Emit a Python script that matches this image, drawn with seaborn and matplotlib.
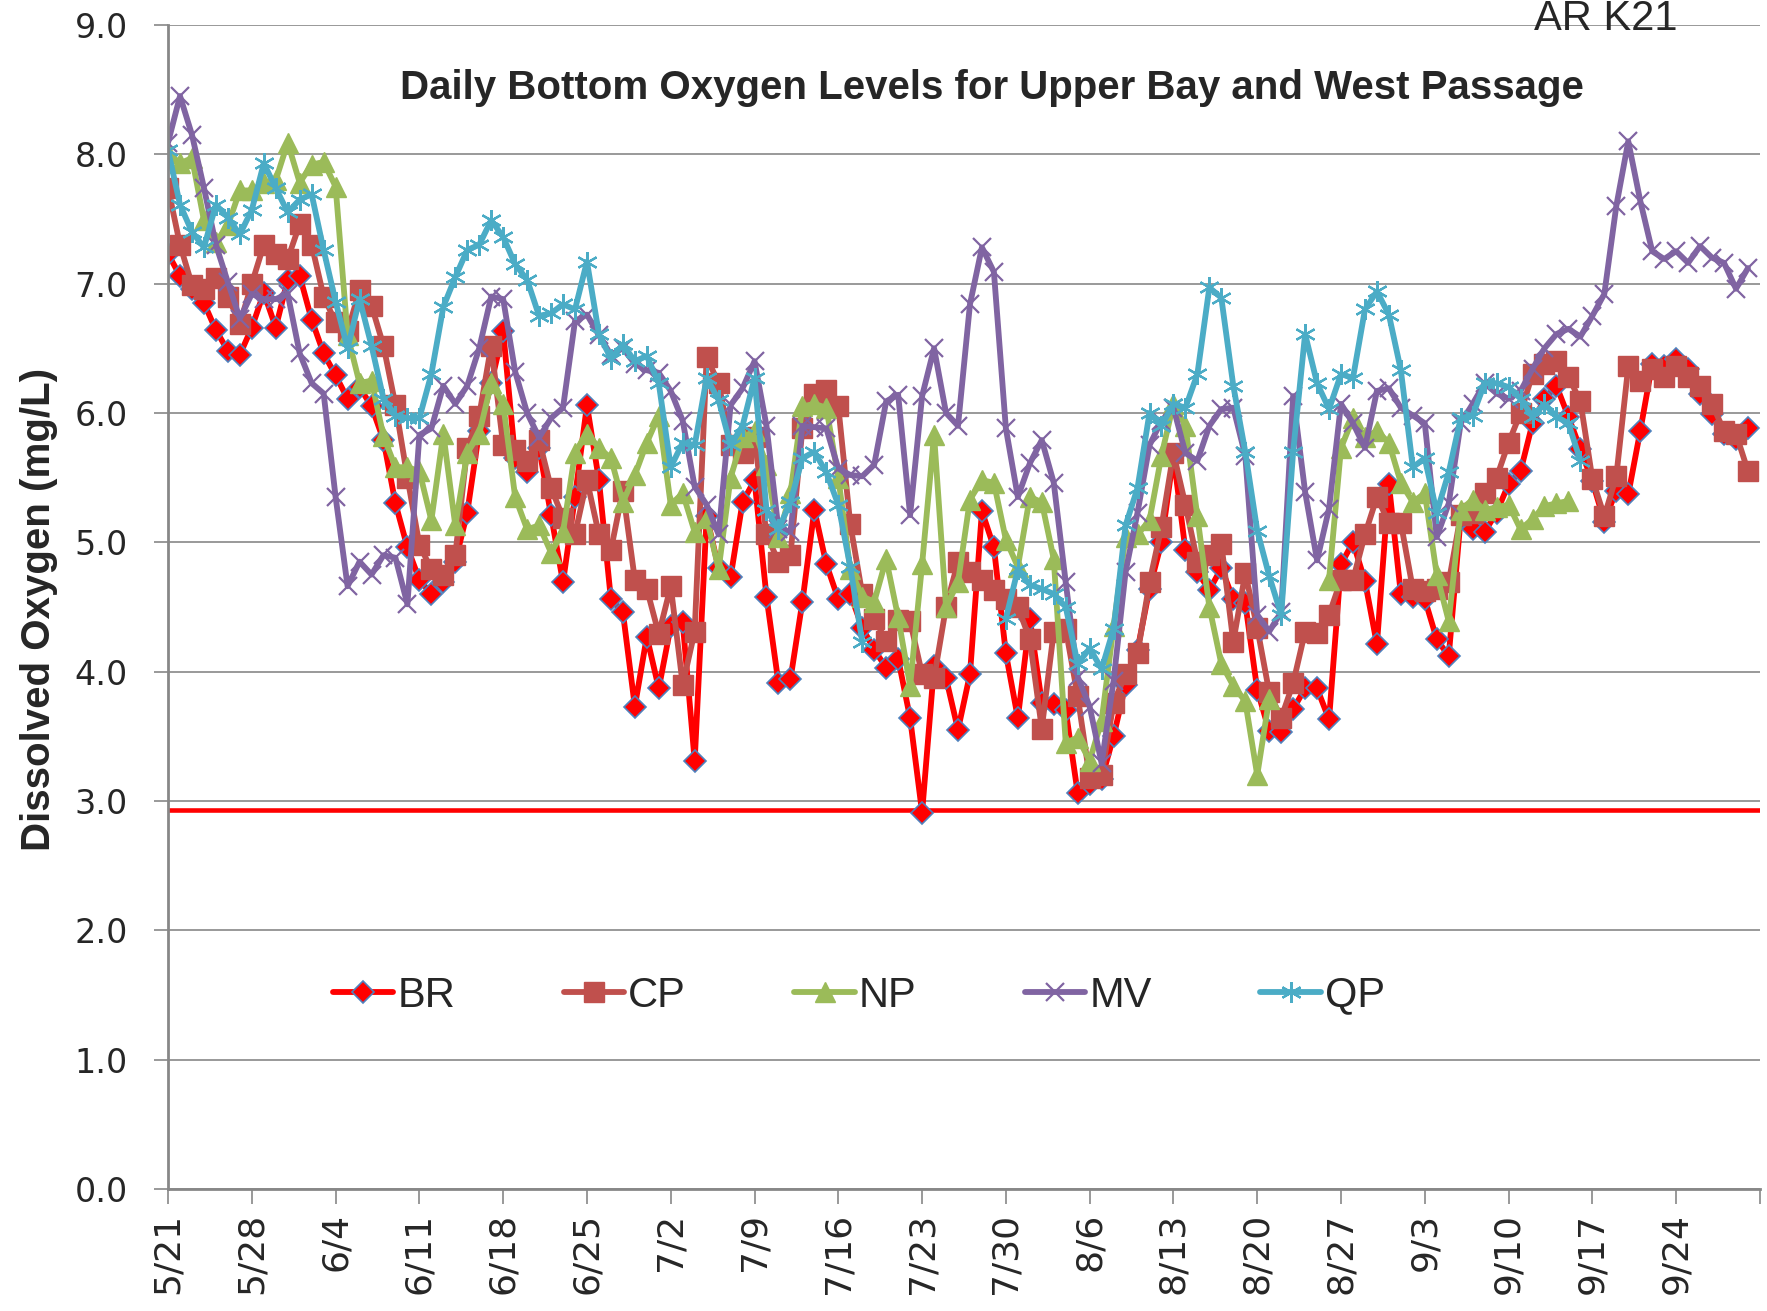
import pandas as pd
import numpy as np
import matplotlib
matplotlib.use('Agg')
import matplotlib.pyplot as plt
import seaborn as sns

# daily values 5/21 .. 9/30 (None = no data that day)
dates = pd.date_range('2013-05-21', periods=133, freq='D')

br = [7.23, 7.06, 6.96, 6.85, 6.64, 6.48, 6.45, 6.66, 6.93, 6.66,
      7.03, 7.06, 6.72, 6.46, 6.29, 6.11, 6.20, 6.05, 5.79, 5.30,
      4.96, 4.71, 4.60, 4.69, 4.85, 5.23, 5.86, 6.23, 6.63, 5.65,
      5.54, 5.73, 5.21, 4.69, 5.35, 6.06, 5.48, 4.56, 4.46, 3.73,
      4.27, 3.87, 4.35, 4.38, 3.31, 5.20, 4.80, 4.73, 5.31, 5.48,
      4.58, 3.91, 3.94, 4.54, 5.25, 4.83, 4.56, 4.60, 4.34, 4.17,
      4.03, 4.10, 3.64, 2.91, 4.04, 3.95, 3.55, 3.98, 5.24, 4.96,
      4.14, 3.64, 4.41, 3.76, 3.75, 3.70, 3.06, 3.13, 3.17, 3.50,
      3.90, 4.17, 4.64, 5.00, 5.67, 4.94, 4.77, 4.63, 4.80, 4.56,
      4.53, 3.86, 3.54, 3.53, 3.71, 3.87, 3.87, 3.63, 4.83, 5.00,
      4.70, 4.21, 5.45, 4.60, 4.58, 4.56, 4.25, 4.12, 5.19, 5.10,
      5.08, 5.23, 5.45, 5.55, 5.92, 6.11, 6.21, 5.97, 5.72, 5.47,
      5.16, 5.40, 5.37, 5.86, 6.38, 6.36, 6.42, 6.34, 6.15, 5.99,
      5.84, 5.80, 5.88]

cp = [7.74, 7.30, 6.99, 6.96, 7.04, 6.90, 6.69, 7.00, 7.30, 7.23,
      7.19, 7.46, 7.30, 6.90, 6.70, 6.63, 6.95, 6.83, 6.52, 6.06,
      5.50, 4.98, 4.79, 4.75, 4.90, 5.73, 5.98, 6.52, 5.75, 5.71,
      5.63, 5.79, 5.42, 5.19, 5.06, 5.48, 5.06, 4.94, 5.40, 4.71,
      4.64, 4.29, 4.66, 3.90, 4.31, 6.43, 6.23, 5.75, 5.69, 5.81,
      5.06, 4.85, 4.90, 5.88, 6.15, 6.18, 6.05, 5.14, 4.60, 4.41,
      4.24, 4.40, 4.39, 3.98, 3.95, 4.50, 4.85, 4.77, 4.71, 4.63,
      4.56, 4.50, 4.25, 3.56, 4.31, 4.33, 3.81, 3.18, 3.20, 3.76,
      3.98, 4.14, 4.69, 5.12, 5.69, 5.29, 4.85, 4.90, 4.99, 4.23,
      4.76, 4.34, 3.84, 3.64, 3.91, 4.31, 4.30, 4.44, 4.71, 4.71,
      5.06, 5.35, 5.15, 5.15, 4.64, 4.62, 4.64, 4.69, 5.21, 5.23,
      5.38, 5.50, 5.77, 6.00, 6.30, 6.38, 6.40, 6.28, 6.09, 5.49,
      5.20, 5.51, 6.36, 6.25, 6.34, 6.28, 6.36, 6.28, 6.21, 6.07,
      5.86, 5.84, 5.55]

np_vals = [8.01, 7.93, 7.97, 7.49, 7.32, 7.45, 7.72, 7.72, 7.78, 7.80,
           8.09, 7.78, 7.92, 7.94, 7.75, 6.60, 6.23, 6.25, 5.82, 5.58,
           5.58, 5.55, 5.17, 5.84, 5.13, 5.69, 5.84, 6.23, 6.07, 5.35,
           5.10, 5.13, 4.92, 5.08, 5.69, 5.84, 5.73, 5.65, 5.31, 5.52,
           5.77, 5.98, 5.29, 5.38, 5.08, 5.19, 4.79, 5.50, 5.81, 5.86,
           5.60, 5.04, 5.38, 6.05, 6.07, 6.04, 5.50, 4.79, 4.58, 4.54,
           4.87, 4.42, 3.89, 4.83, 5.83, 4.50, 4.69, 5.33, 5.48, 5.46,
           5.02, 4.81, 5.35, 5.31, 4.87, 3.45, 3.49, 3.31, 3.62, 4.35,
           5.04, 5.06, 5.17, 5.67, 6.07, 5.90, 5.20, 4.50, 4.06, 3.89,
           3.77, 3.20, 3.79, None, None, None, None, 4.71, 5.73, 5.96,
           5.81, 5.86, 5.77, 5.46, 5.31, 5.38, 4.75, 4.39, 5.25, 5.33,
           5.25, 5.27, 5.29, 5.10, 5.18, 5.28, 5.30, 5.32] + [None] * 15

mv = [8.09, 8.45, 8.15, 7.74, 7.30, 7.01, 6.73, 6.92, 6.88, 6.88,
      6.92, 6.46, 6.23, 6.15, 5.35, 4.66, 4.85, 4.75, 4.90, 4.88,
      4.52, 5.83, 5.88, 6.21, 6.07, 6.21, 6.50, 6.90, 6.88, 6.32,
      6.00, 5.81, 5.96, 6.04, 6.71, 6.76, 6.60, 6.45, 6.50, 6.38,
      6.33, 6.31, 6.17, 5.94, 5.43, 5.29, 5.06, 6.06, 6.19, 6.40,
      5.90, 5.10, 5.08, 5.90, 5.89, 5.88, 5.57, 5.52, 5.51, 5.60,
      6.09, 6.14, 5.21, 6.13, 6.50, 6.00, 5.90, 6.84, 7.28, 7.09,
      5.88, 5.35, 5.61, 5.79, 5.46, 4.69, 3.96, 3.73, 3.29, 3.93,
      4.77, 5.23, 5.75, 5.94, 6.04, 5.69, 5.63, 5.90, 6.03, 6.04,
      5.67, 4.44, 4.31, 4.46, 6.13, 5.39, 4.86, 5.26, 6.07, 5.92,
      5.73, 6.17, 6.19, 6.04, 5.98, 5.92, 5.04, 5.30, 5.92, 6.07,
      6.23, 6.15, 6.11, 6.17, 6.34, 6.50, 6.61, 6.65, 6.59, 6.75,
      6.92, 7.60, 8.10, 7.64, 7.25, 7.19, 7.25, 7.16, 7.29, 7.20,
      7.16, 6.96, 7.12]

qp = [8.03, 7.61, 7.40, 7.28, 7.61, 7.51, 7.38, 7.57, 7.93, 7.74,
      7.55, 7.65, 7.69, 7.26, 6.86, 6.50, 6.88, 6.52, 6.11, 5.98,
      5.96, 5.96, 6.30, 6.82, 7.05, 7.26, 7.30, 7.49, 7.36, 7.15,
      7.03, 6.75, 6.77, 6.84, 6.80, 7.17, 6.61, 6.42, 6.53, 6.40,
      6.44, 6.23, 5.58, 5.77, 5.75, 6.27, 6.10, 5.75, 5.90, 6.27,
      5.25, 5.10, 5.31, 5.65, 5.70, 5.54, 5.29, 4.81, 4.23, None,
      None, None, None, None, None, None, None, None, None, None,
      4.41, 4.79, 4.67, 4.64, 4.60, 4.50, 4.06, 4.18, 4.02, 4.33,
      5.13, 5.42, 6.00, 5.90, 6.07, 6.04, 6.30, 6.97, 6.89, 6.21,
      5.70, 5.09, 4.74, 4.44, 5.70, 6.61, 6.23, 6.03, 6.30, 6.27,
      6.80, 6.94, 6.76, 6.33, 5.58, 5.65, 5.23, 5.54, 5.96, 5.98,
      6.23, 6.23, 6.20, 6.11, 5.97, 6.07, 5.97, 5.92, 5.63] + [None] * 14

series_names = ['BR', 'CP', 'NP', 'MV', 'QP']
threshold = 2.93
tick_labels = ['5/21', '5/28', '6/4', '6/11', '6/18', '6/25', '7/2', '7/9', '7/16',
               '7/23', '7/30', '8/6', '8/13', '8/20', '8/27', '9/3', '9/10', '9/17', '9/24']

df = pd.DataFrame({'BR': br, 'CP': cp, 'NP': np_vals, 'MV': mv, 'QP': qp},
                  index=dates, dtype=float)

styles = {
    'BR': dict(color='#FF0000', marker='D', markersize=11, markerfacecolor='#FF0000',
               markeredgecolor='#4F81BD', markeredgewidth=1.2),
    'CP': dict(color='#C0504D', marker='s', markersize=14, markerfacecolor='#C0504D',
               markeredgecolor='#C0504D', markeredgewidth=1),
    'NP': dict(color='#9BBB59', marker='^', markersize=14, markerfacecolor='#9BBB59',
               markeredgecolor='#9BBB59', markeredgewidth=1),
    'MV': dict(color='#8064A2', marker='x', markersize=13, markeredgecolor='#8064A2',
               markeredgewidth=1.6),
    'QP': dict(color='#4BACC6', marker=(6, 2, 0), markersize=15, markeredgecolor='#4BACC6',
               markeredgewidth=1.6),
}

sns.set_style('white')
plt.rcParams['font.family'] = ['DejaVu Sans']

fig = plt.figure(figsize=(17.67, 13.11), dpi=100)
ax = fig.add_axes([0.0951, 0.0931, 0.9009, 0.8879])

handles = []
for name in series_names:
    s = df[name]
    ok = s.notna()
    runs = s[ok].groupby(s.isna().cumsum()[ok])
    first = True
    for _, part in runs:
        sns.lineplot(x=part.index, y=part.values, ax=ax, estimator=None, sort=False,
                     linewidth=4.2, **styles[name])
        if first:
            handles.append(ax.lines[-1])
            first = False

ax.axhline(threshold, color='#FF0000', linewidth=3.3, zorder=1)

# axes
ax.set_ylim(0, 9)
ax.set_yticks(np.arange(0, 9.5, 1.0))
ax.set_yticklabels([f'{v:.1f}' for v in np.arange(0, 9.5, 1.0)], fontsize=24)
x0 = dates[0]
ax.set_xlim(x0, x0 + pd.Timedelta(days=133))
xt = [x0 + pd.Timedelta(days=7 * k) for k in range(len(tick_labels))] + [x0 + pd.Timedelta(days=133)]
ax.set_xticks(xt)
ax.set_xticklabels(tick_labels + [''], rotation=90, fontsize=26)
ax.grid(axis='y', color='#878787', linewidth=1.2)
ax.grid(axis='x', visible=False)
ax.set_axisbelow(True)
for side in ['top', 'right']:
    ax.spines[side].set_visible(False)
for side in ['left', 'bottom']:
    ax.spines[side].set_color('#878787')
    ax.spines[side].set_linewidth(2)
ax.tick_params(axis='y', direction='out', length=10, width=1.2, color='#878787', pad=19, left=True)
ax.tick_params(axis='x', direction='out', length=11, width=1.2, color='#878787', pad=6, bottom=True)
ax.set_xlabel('')

ax.set_ylabel('Dissolved Oxygen (mg/L)', fontsize=29, fontweight='bold', family='Liberation Sans')
ax.yaxis.label.set_va('center')
ax.yaxis.set_label_coords(-0.081, 0.498)

ax.text(0.5176, 0.9455, 'Daily Bottom Oxygen Levels for Upper Bay and West Passage',
        transform=ax.transAxes, ha='center', va='center', fontsize=29,
        fontweight='bold', family='Liberation Sans')

fig.text(0.909, 0.977, 'AR K21', ha='center', va='baseline', fontsize=30,
         family='Liberation Sans')

ax.legend(handles, series_names, loc='center', bbox_to_anchor=(0.434, 0.166), ncol=5,
          frameon=False, prop={'family': 'Liberation Sans', 'size': 30},
          handlelength=1.45, handletextpad=0.1, columnspacing=2.6, numpoints=1)

fig.savefig('out.png', dpi=100, facecolor='white')
